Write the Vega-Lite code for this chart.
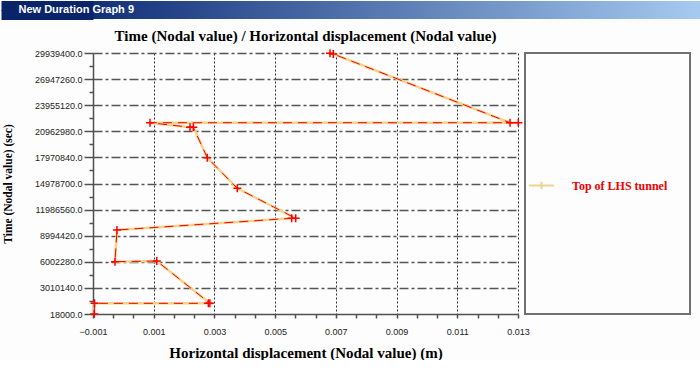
{
  "$schema": "https://vega.github.io/schema/vega-lite/v6.json",
  "padding": 0,
  "background": "#fdfdfd",
  "spacing": 9,
  "columns": 1,
  "align": "none",
  "config": {
    "font": "Liberation Serif",
    "view": {"stroke": null}
  },
  "concat": [
    {
      "width": 607,
      "height": 18,
      "view": {"stroke": null, "fill": {"gradient": "linear", "x1": 0, "y1": 0, "x2": 1, "y2": 0, "stops": [{"offset": 0, "color": "#123078"}, {"offset": 1, "color": "#a6caf0"}]}},
      "data": {"values": [{"t": "New Duration Graph 9", "v": 0}]},
      "mark": {"type": "text", "align": "left", "baseline": "middle", "dx": -378, "color": "#ffffff", "font": "Liberation Sans", "fontSize": 11, "fontWeight": "bold"},
      "encoding": {
        "text": {"field": "t"},
        "y": {"field": "v", "type": "quantitative", "scale": {"domain": [-1, 1]},
              "axis": {"title": null, "values": [-0.95, -0.85, -0.75, -0.65, -0.55, -0.45, -0.35, -0.25, -0.15, -0.05, 0.05, 0.15, 0.25, 0.35, 0.45, 0.55, 0.65, 0.75, 0.85, 0.95], "labels": false, "domain": false, "grid": false, "tickSize": 92, "tickWidth": 1.2, "tickColor": "#0a246a"}}
      }
    },
    {
      "hconcat": [
        {
          "width": 425,
          "height": 261,
          "title": {"text": "Time (Nodal value) / Horizontal displacement (Nodal value)", "font": "Liberation Serif", "fontSize": 15, "fontWeight": "bold", "color": "#000000", "offset": 2},
          "data": {"values": [
            {"order": 1, "x": -0.00096, "time": 18000, "series": "Top of LHS tunnel"},
            {"order": 2, "x": -0.00095, "time": 1240000, "series": "Top of LHS tunnel"},
            {"order": 3, "x": 0.0028, "time": 1240000, "series": "Top of LHS tunnel"},
            {"order": 4, "x": 0.00285, "time": 1240000, "series": "Top of LHS tunnel"},
            {"order": 5, "x": 0.0011, "time": 6094000, "series": "Top of LHS tunnel"},
            {"order": 6, "x": -0.000275, "time": 6014000, "series": "Top of LHS tunnel"},
            {"order": 7, "x": -0.00021, "time": 9648000, "series": "Top of LHS tunnel"},
            {"order": 8, "x": 0.005545, "time": 10989000, "series": "Top of LHS tunnel"},
            {"order": 9, "x": 0.005677, "time": 10989000, "series": "Top of LHS tunnel"},
            {"order": 10, "x": 0.003753, "time": 14428000, "series": "Top of LHS tunnel"},
            {"order": 11, "x": 0.002765, "time": 17936000, "series": "Top of LHS tunnel"},
            {"order": 12, "x": 0.002304, "time": 21422000, "series": "Top of LHS tunnel"},
            {"order": 13, "x": 0.002195, "time": 21422000, "series": "Top of LHS tunnel"},
            {"order": 14, "x": 0.000878, "time": 21948000, "series": "Top of LHS tunnel"},
            {"order": 15, "x": 0.01301, "time": 21948000, "series": "Top of LHS tunnel"},
            {"order": 16, "x": 0.012737, "time": 21948000, "series": "Top of LHS tunnel"},
            {"order": 17, "x": 0.006916, "time": 29825000, "series": "Top of LHS tunnel"},
            {"order": 18, "x": 0.006807, "time": 29906000, "series": "Top of LHS tunnel"}
          ]},
          "encoding": {
            "x": {
              "field": "x", "type": "quantitative",
              "scale": {"domain": [-0.001, 0.013], "nice": false, "zero": false},
              "axis": {
                "title": "Horizontal displacement (Nodal value) (m)",
                "titleFont": "Liberation Serif", "titleFontSize": 15, "titleFontWeight": "bold", "titleColor": "#000000", "titlePadding": 9,
                "values": [-0.001, -0.000333333, 0.000333333, 0.001, 0.001666667, 0.002333333, 0.003, 0.003666667, 0.004333333, 0.005, 0.005666667, 0.006333333, 0.007, 0.007666667, 0.008333333, 0.009, 0.009666667, 0.010333333, 0.011, 0.011666667, 0.012333333, 0.013],
                "labelExpr": "abs((datum.value + 0.001) / 0.002 - round((datum.value + 0.001) / 0.002)) < 0.01 ? format(datum.value, '.3f') : ''",
                "labelFont": "Liberation Sans", "labelFontSize": 9, "labelColor": "#222222", "labelPadding": 9, "labelFlush": false, "labelOverlap": false,
                "tickSize": 4, "tickColor": "#505050", "tickWidth": 1.5,
                "domainColor": "#505050", "domainWidth": 1.5,
                "grid": true, "gridColor": "#303030", "gridWidth": 1, "gridDash": [2, 2],
                "gridOpacity": {"condition": {"test": "abs((datum.value + 0.001) / 0.002 - round((datum.value + 0.001) / 0.002)) < 0.01 && datum.value > -0.0009", "value": 1}, "value": 0}
              }
            },
            "y": {
              "field": "time", "type": "quantitative",
              "scale": {"domain": [18000, 29939400], "nice": false, "zero": false},
              "axis": {
                "title": "Time (Nodal value) (sec)",
                "titleFont": "Liberation Serif", "titleFontSize": 11.5, "titleFontWeight": "bold", "titleColor": "#000000", "titlePadding": 21,
                "values": [18000, 1514070, 3010140, 4506210, 6002280, 7498350, 8994420, 10490490, 11986560, 13482630, 14978700, 16474770, 17970840, 19466910, 20962980, 22459050, 23955120, 25451190, 26947260, 28443330, 29939400],
                "labelExpr": "(datum.value - 18000) % 2992140 == 0 ? format(datum.value, '.1f') : ''",
                "labelFont": "Liberation Sans", "labelFontSize": 9, "labelColor": "#222222", "labelPadding": 2, "labelOverlap": false, "labelFlush": false,
                "tickSize": {"condition": {"test": "(datum.value - 18000) % 2992140 == 0", "value": 9}, "value": 4},
                "tickColor": "#505050", "tickWidth": 1.5,
                "domainColor": "#505050", "domainWidth": 1.5,
                "grid": true, "gridColor": "#555555", "gridWidth": 1.5, "gridDash": [9, 3, 3, 3],
                "gridOpacity": {"condition": {"test": "(datum.value - 18000) % 2992140 == 0 && datum.value > 20000", "value": 1}, "value": 0}
              }
            },
            "order": {"field": "order", "type": "quantitative"}
          },
          "layer": [
            {
              "mark": {"type": "line", "strokeWidth": 2.5},
              "encoding": {
                "color": {
                  "field": "series", "type": "nominal",
                  "scale": {"range": ["#f2d48e"]},
                  "legend": {
                    "title": null, "orient": "none", "legendX": 435, "legendY": 119,
                    "symbolType": "M-1,0H1M0,-0.3V0.3", "symbolSize": 625, "symbolStrokeWidth": 2,
                    "labelFont": "Liberation Serif", "labelFontSize": 12, "labelFontWeight": "bold", "labelColor": "#ee0000",
                    "labelOffset": 17, "padding": 0
                  }
                }
              }
            },
            {
              "mark": {"type": "line", "strokeWidth": 1, "color": "#ff0000", "strokeDash": [9, 6]},
              "encoding": {}
            },
            {
              "mark": {"type": "point", "shape": "M-1,0H1M0,-1V1", "size": 64, "filled": false, "color": "#ff0000", "strokeWidth": 1.5, "opacity": 1},
              "encoding": {}
            }
          ]
        },
        {
          "width": 165,
          "height": 261,
          "view": {"stroke": "#707070", "strokeWidth": 2},
          "data": {"values": [{"t": ""}]},
          "mark": {"type": "text", "opacity": 0},
          "encoding": {"text": {"field": "t"}}
        }
      ],
      "spacing": 7,
      "bounds": "flush",
      "resolve": {"scale": {"color": "independent"}, "legend": {"color": "independent"}}
    }
  ]
}
